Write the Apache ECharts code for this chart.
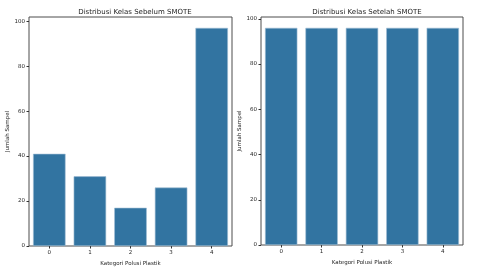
<!DOCTYPE html>
<html><head><meta charset="utf-8">
<script src="https://cdn.jsdelivr.net/npm/echarts@6/dist/echarts.min.js"></script>
<style>html,body{margin:0;padding:0;background:#fff}#c{width:480px;height:273px}</style>
</head><body><div id="c"></div>
<script>
const categories = ['0','1','2','3','4'];
const beforeValues = [41, 31, 17, 26, 97];
const afterValues = [96, 96, 96, 96, 96];
const yTicks = [0, 20, 40, 60, 80, 100];
const titles = ['Distribusi Kelas Sebelum SMOTE', 'Distribusi Kelas Setelah SMOTE'];
const xName = 'Kategori Polusi Plastik';
const yName = 'Jumlah Sampel';

const font = 'DejaVu Sans';
const txt = '#262626';
const barColor = '#3274a1';
const grids = [
  {left: 29, right: 248, top: 17, bottom: 27},
  {left: 261, right: 17, top: 17, bottom: 28}
];
const maxes = [Math.max(...beforeValues) * 1.05, Math.max(...afterValues) * 1.05];
const chart = echarts.init(document.getElementById('c'), null, {renderer: 'canvas'});
chart.setOption({
  animation: false,
  title: titles.map((t, i) => ({
    text: t,
    left: i === 0 ? 130 : 362,
    top: 4,
    textAlign: 'center',
    textStyle: {fontFamily: font, fontSize: 7, fontWeight: 'normal', color: txt}
  })),
  grid: grids.map(g => Object.assign({show: true, borderColor: '#4d4d4d', borderWidth: 1, backgroundColor: '#fff'}, g)),
  xAxis: grids.map((g, i) => ({
    type: 'category', gridIndex: i, data: categories,
    name: xName, nameLocation: 'middle', nameGap: 13,
    nameTextStyle: {fontFamily: font, fontSize: 5.5, color: txt},
    axisLine: {show: false},
    axisTick: {show: true, alignWithLabel: true, length: 2.5, lineStyle: {color: '#333'}},
    axisLabel: {fontFamily: font, fontSize: 5.5, color: txt, margin: 4}
  })),
  yAxis: grids.map((g, i) => ({
    type: 'value', gridIndex: i, min: 0, max: maxes[i],
    name: yName, nameLocation: 'middle', nameGap: 18,
    nameTextStyle: {fontFamily: font, fontSize: 5.5, color: txt},
    splitLine: {show: false},
    axisLine: {show: false},
    axisTick: {show: true, length: 2.5, customValues: yTicks, lineStyle: {color: '#333'}},
    axisLabel: {fontFamily: font, fontSize: 5.5, color: txt, margin: 4, customValues: yTicks}
  })),
  series: [beforeValues, afterValues].map((d, i) => ({
    type: 'bar', xAxisIndex: i, yAxisIndex: i, data: d,
    barCategoryGap: '20%',
    itemStyle: {color: barColor, borderColor: '#9dbcd4', borderWidth: 0.6}
  }))
});
</script></body></html>
